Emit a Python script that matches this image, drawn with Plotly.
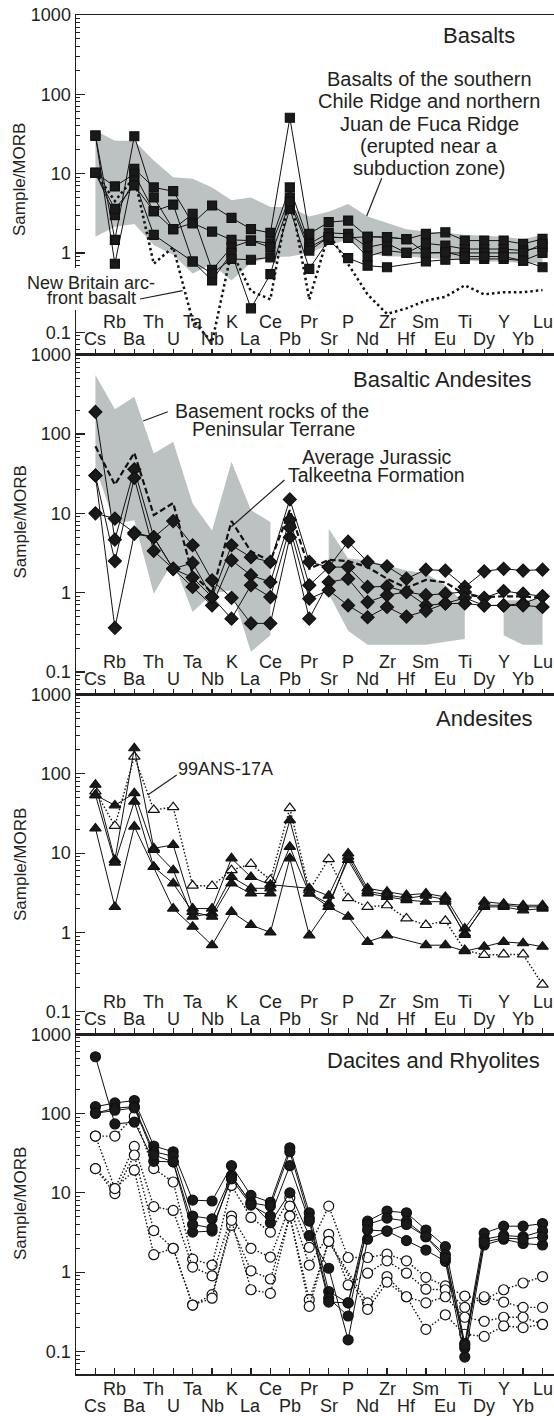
import plotly.graph_objects as go

# ---------------- data ----------------
elements = ["Cs", "Rb", "Ba", "Th", "U", "Ta", "Nb", "K", "La", "Ce", "Pb", "Pr",
            "Sr", "P", "Nd", "Zr", "Hf", "Sm", "Eu", "Ti", "Dy", "Y", "Yb", "Lu"]

# Panel 1: Basalts (filled squares)
basalt_1 = [30.1, 1.46, 29.6, 5.0, 2.0, 2.37, 3.96, 2.77, 2.0, 1.79, 50.6, 1.74, 2.44, 2.56, 1.6, 1.58, 1.49, 1.74, 1.82, 1.43, 1.43, 1.43, 1.3, 1.5]
basalt_2 = [30.1, 0.73, 11.5, 6.7, 6.0, 2.37, 1.86, 1.46, 1.43, 1.32, 6.7, 1.3, 1.79, 1.74, 1.18, 1.32, 1.0, 1.32, 1.24, 1.12, 1.12, 1.12, 1.07, 1.18]
basalt_3 = [10.2, 6.9, 9.9, 3.36, 2.0, 3.1, 0.61, 1.18, 1.43, 1.18, 5.0, 1.18, 1.58, 1.55, 0.9, 1.07, 1.0, 1.0, 1.02, 1.0, 1.0, 1.0, 1.0, 1.3]
basalt_4 = [10.2, 3.0, 8.2, 1.69, None, 0.78, 0.45, 1.0, 0.2, 0.54, 3.6, 0.63, 1.46, 0.86, 0.69, 0.66, None, 0.78, 0.82, 0.84, 0.84, 0.84, 0.8, 0.66]
basalt_5 = [10.2, 3.6, 7.1, 3.36, 4.07, 0.78, 0.55, 0.84, 0.82, 0.88, 4.4, 1.07, 1.58, 1.55, 1.6, 1.58, 1.49, 1.0, 1.02, 0.9, 0.9, 0.9, 0.8, 1.0]
new_britain = [10.2, 4.5, 9.0, 0.73, 1.18, 0.14, 0.075, 1.05, 0.33, 0.26, 5.8, 0.26, 1.74, 0.72, 0.3, 0.17, 0.2, 0.25, 0.28, 0.39, 0.3, 0.32, 0.32, 0.34]
ridge_field_upper = [35, 26, 26, 14.6, 9.0, 8.6, 6.7, 4.6, 5.0, 3.8, 3.8, 2.87, 3.3, 4.15, 2.87, 2.37, 1.99, 1.86, 1.8, 1.69, 1.64, 1.6, 1.49, 1.69]
ridge_field_lower = [1.6, 2.14, 2.32, 1.26, 0.94, 0.55, 0.72, 0.45, 0.75, 0.88, 0.9, 1.0, 1.26, 1.46, 1.0, 0.9, 0.9, 0.86, 0.84, 0.8, 0.78, 0.78, 0.74, 0.74]

# Panel 2: Basaltic andesites (filled diamonds)
bas_and_1 = [190, 4.66, 36, 5.0, 2.0, 1.55, 0.88, 3.96, 2.8, 2.44, 15, 2.44, 2.1, 4.4, 2.44, 2.15, 1.5, 1.95, 1.9, 1.18, 1.86, 2.0, 1.9, 1.95]
bas_and_2 = [30, 2.5, 28, 3.36, 2.0, 1.18, 0.69, 2.56, 1.66, 1.36, 8.3, 1.24, 2.1, 2.1, 1.18, 1.2, 1.02, 0.93, 0.97, 1.02, 0.86, 1.05, 0.97, 0.9]
bas_and_3 = [10, 8.6, 5.7, 5.0, 8.0, 3.96, 1.43, 0.86, 0.41, 0.41, 5.0, 0.47, 1.36, 1.5, 0.76, 0.93, 1.02, 0.69, 0.73, 0.86, 0.69, 0.69, 0.73, 0.9]
bas_and_4 = [30, 0.36, 5.5, 5.0, 2.0, 2.37, 0.88, 0.47, 1.24, 0.88, 6.6, 0.84, 1.07, 0.69, 0.49, 0.66, 0.5, 0.59, 0.73, 0.73, 0.69, 0.69, 0.69, 0.66]
talkeetna_avg = [70, 23, 58, 9.5, 13.5, 1.7, 1.0, 8.0, 3.3, 2.5, 11, 2.0, 2.6, 2.5, 2.1, 1.5, 1.15, 1.45, 1.35, 0.95, 0.88, 0.9, 0.9, 0.85]
peninsular_upper = [556, 205, 295, 57, 80, 13.3, 6.1, 44.7, 11, 7.8, None, None, 6.4, 2.7, 2.56, 2.2, 1.9, 1.74, 1.24, 0.73, None, 0.8, 0.8, 0.84]
peninsular_lower = [38, 7.4, 8.2, 0.97, 2.5, 0.57, 0.97, 1.07, 0.18, 0.29, None, None, 0.97, 0.33, 0.22, 0.22, 0.22, 0.22, 0.24, 0.26, None, 0.29, 0.22, 0.22]

# Panel 3: Andesites (filled triangles; 99ANS-17A open triangles)
andesite_1 = [73, 8.2, 210, 11.5, 12.7, 2.0, 2.0, 8.6, 5.0, 4.0, None, 3.6, 2.9, 9.9, 3.6, 3.26, 2.96, 3.1, 2.8, 1.12, 2.44, 2.3, 2.2, 2.2]
andesite_2 = [54, 40, 57, 11.0, 6.1, 1.58, 1.74, 5.0, 3.6, 3.6, 26, 3.1, 2.3, 8.2, 3.1, 2.8, 2.56, 2.44, 2.44, 0.97, 2.1, 2.1, 1.9, 2.0]
andesite_3 = [54, 7.6, 44.6, 6.7, 4.15, 1.82, 1.58, 4.15, 3.1, 3.1, 12, 3.1, 2.1, 9.0, 3.3, 3.0, 2.7, 2.9, 2.6, 0.93, 2.2, 2.2, 2.1, 2.1]
andesite_4 = [20.5, 2.1, 21.6, 6.7, 2.0, 1.18, 0.69, 1.82, 1.24, 1.0, 8.6, 0.92, 2.1, 1.58, 0.76, 0.92, None, 0.69, 0.69, 0.58, 0.66, 0.76, 0.73, 0.66]
andesite_99ans17a = [60, 22, 165, 35, 38, 3.9, 3.85, 6.1, 7.3, 4.6, 37, 3.4, 8.4, 2.7, 2.1, 2.2, 1.5, 1.24, 1.4, 0.6, 0.52, 0.53, 0.53, 0.22]

# Panel 4: Dacites (filled circles) and rhyolites (open circles)
dacite_1 = [520, 74, 78, 25, 24.6, 3.2, 3.3, 16.3, 7.5, 4.2, 10, 2.9, 1.12, 0.14, 2.6, 3.3, 2.5, 1.9, 1.37, 0.085, 2.2, 2.6, 2.3, 2.2]
dacite_2 = [122, 136, 146, 39, 33, 8.1, 7.9, 22, 9.3, 7.6, 37, 5.6, 0.57, 0.41, 4.4, 5.9, 5.6, 3.4, 2.1, 0.126, 3.1, 3.8, 3.8, 4.1]
dacite_3 = [101, 117, 122, 33, 29, 5.1, 4.7, 16.3, 7.5, 6.8, 33, 4.8, 0.47, 0.28, 4.0, 4.8, 4.4, 2.8, 1.66, 0.11, 2.6, 2.9, 2.8, 3.3]
dacite_4 = [101, 110, 118, 30, 24.6, 4.0, 3.6, 15, 7.0, 5.1, 22, 4.4, 0.42, 0.41, 3.4, 3.3, 4.0, 2.8, 1.5, 0.12, 2.4, 2.7, 2.6, 2.8]
rhyolite_1 = [52, 52, 92, 20.2, 13.7, 1.46, 1.23, 12.4, 4.9, 3.2, 8.7, 2.06, 6.8, 1.53, 1.53, 1.69, 1.39, 0.86, 0.67, 0.5, 0.45, 0.6, 0.73, 0.88]
rhyolite_2 = [52, 11.3, 38.5, 6.7, 6.0, 1.16, 0.9, 5.1, 2.0, 1.55, 6.8, 1.23, 3.0, 0.69, 0.97, 1.39, 0.97, 0.61, 0.6, 0.36, 0.49, 0.42, 0.36, 0.36]
rhyolite_3 = [20.2, 9.8, 30, 3.35, 2.0, 0.385, 0.52, 3.9, 1.04, 0.82, 5.1, 0.45, 2.45, None, 0.41, 0.88, 0.49, 0.41, 0.49, 0.27, 0.24, 0.27, 0.27, 0.22]
rhyolite_4 = [20.2, 11.3, 19.3, 1.66, 2.0, 0.385, 0.47, 4.5, 0.6, 0.54, 5.1, 0.37, 2.45, None, 0.34, 0.75, 0.49, 0.19, 0.29, 0.165, 0.155, 0.21, 0.2, 0.22]

y_tick_vals = [0.1, 1, 10, 100, 1000]
y_tick_text = ["0.1", "1", "10", "100", "1000"]
panel_titles = ["Basalts", "Basaltic Andesites", "Andesites", "Dacites and Rhyolites"]

# ---------------- layout helpers ----------------
W, H = 554, 1416
ML, MR, MT, MB = 76, 0, 15, 42
PW, PH = W - ML - MR, H - MT - MB
YR = [-1.284, 3]
TEXT = "#231f20"
GRAY = "#bcc1c1"
FONT = "Liberation Sans, Arial, Helvetica, sans-serif"


def fx(px):
    return (px - ML) / PW


def fy(py):
    return 1 - (py - MT) / PH


def axn(k):
    return ("x" if k == 1 else f"x{k}"), ("y" if k == 1 else f"y{k}")


fig = go.Figure()


def add_field(k, upper, lower):
    xa, ya = axn(k)
    runs, cur = [], []
    for i, u in enumerate(upper):
        if u is None:
            if cur:
                runs.append(cur)
                cur = []
        else:
            cur.append(i)
    if cur:
        runs.append(cur)
    for r in runs:
        xs = [elements[i] for i in r] + [elements[i] for i in reversed(r)]
        ys = [upper[i] for i in r] + [lower[i] for i in reversed(r)]
        fig.add_trace(go.Scatter(x=xs + [xs[0]], y=ys + [ys[0]], mode="lines",
                                 fill="toself", fillcolor=GRAY, line=dict(width=0),
                                 hoverinfo="skip", xaxis=xa, yaxis=ya))


def add_series(k, vals, symbol, filled=True, dash="solid", lw=1.0, size=10, markers=True):
    xa, ya = axn(k)
    fig.add_trace(go.Scatter(
        x=elements, y=vals, mode="lines+markers" if markers else "lines",
        connectgaps=True,
        line=dict(color="#111111", width=lw, dash=dash),
        marker=dict(symbol=symbol, size=size,
                    color="#1a1a1a" if filled else "white",
                    line=dict(color="#111111", width=1.2)),
        xaxis=xa, yaxis=ya))


# Panel 1
add_field(1, ridge_field_upper, ridge_field_lower)
add_series(1, new_britain, "square", dash="2.5px,3px", lw=2.5, markers=False)
for s in [basalt_1, basalt_2, basalt_3, basalt_4, basalt_5]:
    add_series(1, s, "square", size=9)

# Panel 2
add_field(2, peninsular_upper, peninsular_lower)
add_series(2, talkeetna_avg, "diamond", dash="6px,3px", lw=2.2, markers=False)
for s in [bas_and_1, bas_and_2, bas_and_3, bas_and_4]:
    add_series(2, s, "diamond", size=10)

# Panel 3
add_series(3, andesite_99ans17a, "triangle-up", filled=False, dash="1.5px,2px", lw=1.4, size=10)
for s in [andesite_1, andesite_2, andesite_3, andesite_4]:
    add_series(3, s, "triangle-up", size=10)

# Panel 4
for s in [rhyolite_1, rhyolite_2, rhyolite_3, rhyolite_4]:
    add_series(4, s, "circle", filled=False, dash="1.5px,2px", lw=1.4, size=10)
for s in [dacite_1, dacite_2, dacite_3, dacite_4]:
    add_series(4, s, "circle", size=10)

# ---------------- axes ----------------
minor_vals = [m * 10 ** e for e in range(-2, 3) for m in range(2, 10) if 0.05 < m * 10 ** e < 1000]
layout_axes = {}
for k in range(1, 5):
    xkey = "xaxis" if k == 1 else f"xaxis{k}"
    ykey = "yaxis" if k == 1 else f"yaxis{k}"
    xa, ya = axn(k)
    layout_axes[xkey] = dict(
        type="category", categoryorder="array", categoryarray=elements,
        range=[-1, 23.59], domain=[0, 1], anchor=ya, automargin=False,
        showline=True, linecolor=TEXT, linewidth=1.5, mirror=True,
        tickmode="array", tickvals=elements, ticks="inside", ticklen=6,
        tickwidth=1.2, tickcolor=TEXT, showticklabels=False,
        showgrid=False, zeroline=False)
    layout_axes[ykey] = dict(
        type="log", range=YR, domain=[1 - k / 4, 1 - (k - 1) / 4], anchor=xa,
        automargin=False,
        showline=True, linecolor=TEXT, linewidth=1.5,
        tickmode="array", tickvals=y_tick_vals, ticktext=y_tick_text,
        ticks="inside", ticklen=9, tickwidth=1.2, tickcolor=TEXT,
        tickfont=dict(family=FONT, size=18, color=TEXT),
        minor=dict(tickmode="array", tickvals=minor_vals, ticks="inside",
                   ticklen=4, tickwidth=1, tickcolor=TEXT, showgrid=False),
        showgrid=False, zeroline=False)

annotations = []
# element labels (two staggered rows)
for k in range(1, 5):
    xa, ya = axn(k)
    for i, el in enumerate(elements):
        upper_row = (i % 2 == 1)
        if k < 4:
            ys = 32.6 if upper_row else 15.5
        else:
            ys = -14.5 if upper_row else -32
        annotations.append(dict(x=i, xref=xa, y=0, yref=f"{ya} domain", yshift=ys,
                                text=el, showarrow=False, xanchor="center", yanchor="middle",
                                font=dict(family=FONT, size=18, color=TEXT)))

# y-axis titles
for yc in [180, 522.5, 865, 1204]:
    annotations.append(dict(x=fx(20), y=fy(yc), xref="paper", yref="paper", text="Sample/MORB",
                            textangle=-90, showarrow=False, xanchor="center", yanchor="middle",
                            font=dict(family=FONT, size=17, color=TEXT)))

texts = [
    (panel_titles[0], 516.6, 35.7, "right", 22),
    ("Basalts of the southern", 429, 79, "center", 20),
    ("Chile Ridge and northern", 429, 100.7, "center", 20),
    ("Juan de Fuca Ridge", 429, 124, "center", 20),
    ("(erupted near a", 429, 145.7, "center", 20),
    ("subduction zone)", 429, 167.7, "center", 20),
    ("New Britain arc-", 91.3, 283.3, "center", 18),
    ("front basalt", 91.7, 297.7, "center", 18),
    (panel_titles[1], 533.6, 379.3, "right", 22),
    ("Basement rocks of the", 272, 410.7, "center", 19.5),
    ("Peninsular Terrane", 273, 429.3, "center", 19.5),
    ("Average Jurassic", 376, 456.7, "center", 19.5),
    ("Talkeetna Formation", 376, 475, "center", 19.5),
    (panel_titles[2], 535.3, 718.3, "right", 22),
    ("99ANS-17A", 225, 769.3, "center", 18),
    (panel_titles[3], 542.4, 1060.7, "right", 22),
]
for t, x, y, anc, sz in texts:
    annotations.append(dict(x=fx(x), y=fy(y), xref="paper", yref="paper", text=t,
                            showarrow=False, xanchor=anc, yanchor="middle",
                            font=dict(family=FONT, size=sz, color=TEXT)))

shapes = [dict(type="rect", xref="paper", yref="paper", x0=fx(60), x1=fx(82),
               y0=fy(310), y1=fy(268), fillcolor="white", line=dict(width=0), layer="above")]
leaders = [((381.7, 178.3), (366.7, 216)),
           ((140, 299), (182.7, 290.7)),
           ((167.8, 411.7), (143.1, 421)),
           ((284.5, 480), (231.4, 526.7)),
           ((176.7, 775), (147.7, 795))]
for (x0, y0), (x1, y1) in leaders:
    shapes.append(dict(type="line", xref="paper", yref="paper", x0=fx(x0), y0=fy(y0),
                       x1=fx(x1), y1=fy(y1), line=dict(color=TEXT, width=1.2), layer="above"))

fig.update_layout(
    width=W, height=H, margin=dict(l=ML, r=MR, t=MT, b=MB, pad=0, autoexpand=False),
    paper_bgcolor="white", plot_bgcolor="white", showlegend=False,
    font=dict(family=FONT, color=TEXT),
    annotations=annotations, shapes=shapes, **layout_axes)

fig.write_html("out.html",
               config={"displayModeBar": False, "staticPlot": True},
               post_script="document.body.style.margin='0';document.body.style.padding='0';"
                           "document.body.style.overflow='hidden';")
